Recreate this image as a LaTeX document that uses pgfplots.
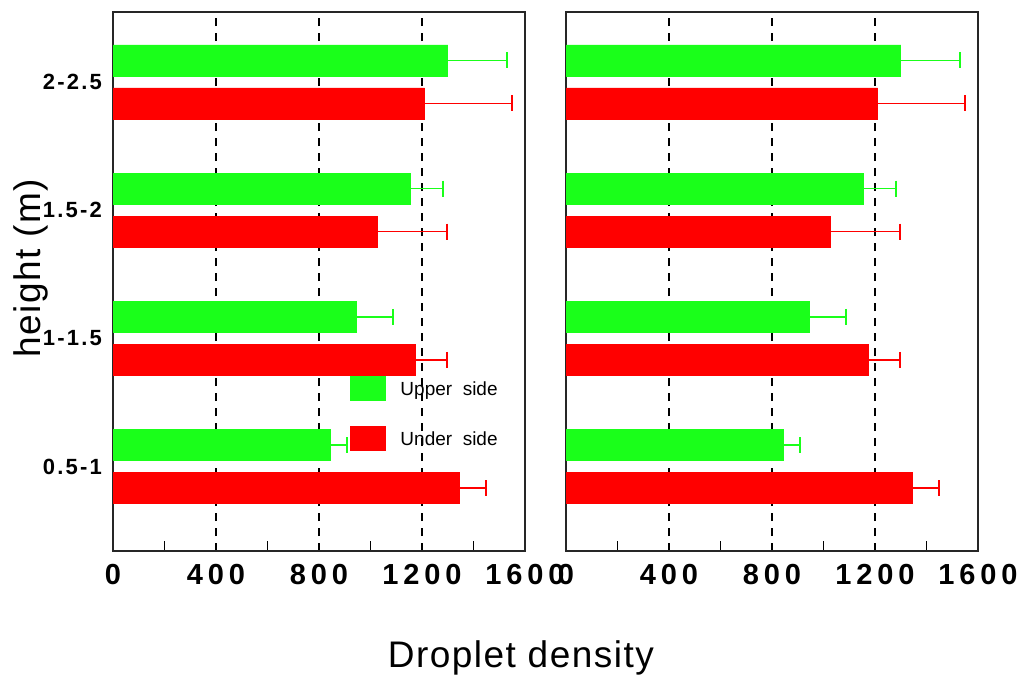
\documentclass[border=0pt]{standalone}
\usepackage{pgfplots}
\usepackage{pgfplotstable}
\pgfplotsset{compat=1.18}
\usepackage{fontspec}
\setmainfont{Liberation Sans}
\newfontfamily\tickfont[LetterSpace=17]{Liberation Sans}
\newfontfamily\ytickfont[LetterSpace=10]{Liberation Sans}
\newfontfamily\labfont[LetterSpace=4]{Liberation Sans}
\definecolor{bargreen}{RGB}{26,255,26}
\definecolor{barred}{RGB}{255,0,0}

\pgfplotstableread{
c g ge r re
0 845 63 1345 104
1 945 143 1175 122
2 1155 127 1025 273
3 1300 230 1210 340
}\data

\pgfplotsset{
  panel/.style={
    scale only axis,
    width=206pt, height=269.5pt,
    xmin=0, xmax=1600,
    ymin=-0.658, ymax=3.545,
    xtick={0,400,800,1200,1600},
    xticklabels={0,400,800,1200,1600},
    minor x tick num=1,
    xtick pos=bottom,
    tick align=inside,
    major x tick style={draw=none},
    minor tick length=5pt,
    minor x tick style={line width=0.8pt, black},
    ytick={0,1,2,3},
    ytick style={draw=none},
    xmajorgrids,
    major x grid style={black, line width=0.7pt, dash pattern=on 4pt off 3.5pt},
    axis line style={line width=0.9pt, black!85},
    xticklabel style={font=\tickfont\bfseries\fontsize{14.5}{16}\selectfont, yshift=-3pt},
    yticklabel style={font=\ytickfont\bfseries\fontsize{11}{13}\selectfont, xshift=-2pt},
    legend image code/.code={\fill[##1] (0pt,-6pt) rectangle (17.5pt,6pt);},
  },
  gbar/.style={xbar, bar width=15.5pt, bar shift=0pt, fill=bargreen, draw=bargreen, line width=0.3pt,
    error bars/.cd, x dir=plus, x explicit, error mark=|,
    error bar style={draw=bargreen, line width=0.65pt},
    error mark options={draw=bargreen, line width=1pt, mark size=4pt}},
  rbar/.style={xbar, bar width=15.5pt, bar shift=0pt, fill=barred, draw=barred, line width=0.3pt,
    error bars/.cd, x dir=plus, x explicit, error mark=|,
    error bar style={draw=barred, line width=0.65pt},
    error mark options={draw=barred, line width=1pt, mark size=4pt}},
}

\begin{document}
\begin{tikzpicture}
\useasboundingbox (0,0) rectangle (513pt,338pt);
\begin{axis}[panel,
  at={(56.5pt,62.5pt)}, anchor=south west,
  yticklabels={0.5-1,1-1.5,1.5-2,2-2.5},
  ylabel={height (m)},
  ylabel style={at={(rel axis cs:-0.2,0.525)}, anchor=center, font=\labfont\fontsize{18.5}{22}\selectfont},
  xlabel={Droplet density},
  xlabel style={at={(rel axis cs:0.99,-0.1985)}, anchor=center, font=\labfont\fontsize{18.5}{22}\selectfont},
  legend style={at={(rel axis cs:0.574,0.325)}, anchor=north west, draw=none, fill=none,
    inner sep=0pt, row sep=12.5pt, column sep=5.5pt, font=\fontsize{9.5}{11}\selectfont},
  legend cell align=left,
]
\addplot[gbar] table[x=g, y expr=\thisrow{c}+0.1675, x error=ge] {\data};
\addlegendentry{\raisebox{-1.5pt}{Upper\ \ side}}
\addplot[rbar] table[x=r, y expr=\thisrow{c}-0.1675, x error=re] {\data};
\addlegendentry{\raisebox{-1.5pt}{Under\ \ side}}
\end{axis}
\begin{axis}[panel,
  at={(283pt,62.5pt)}, anchor=south west,
  yticklabels={},
]
\addplot[gbar] table[x=g, y expr=\thisrow{c}+0.1675, x error=ge] {\data};
\addplot[rbar] table[x=r, y expr=\thisrow{c}-0.1675, x error=re] {\data};
\end{axis}
\end{tikzpicture}
\end{document}
